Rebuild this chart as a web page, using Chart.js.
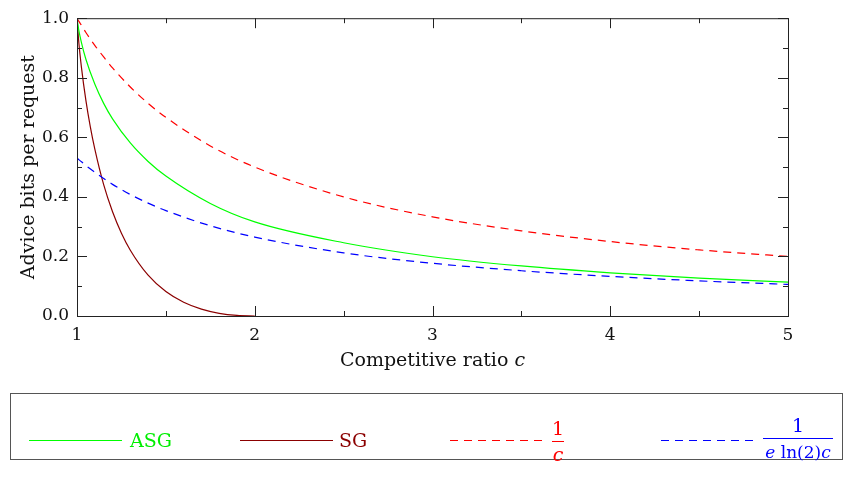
<!DOCTYPE html>
<html>
<head>
<meta charset="utf-8">
<script src="https://cdn.jsdelivr.net/npm/chart.js@4.4.1/dist/chart.umd.min.js"></script>
<style>
  body { margin: 0; background: #fff; }
  #wrap { position: relative; width: 845px; height: 489px; font-family: "DejaVu Serif", serif; }
  #chart { position: absolute; left: 0; top: 0; }
  #legend { position: absolute; left: 10px; top: 393px; width: 833px; height: 67px; border: 1px solid #555; box-sizing: border-box; }
  .lbl { position: absolute; font-size: 19px; line-height: 20px; white-space: nowrap; }
  .bar { position: absolute; height: 0; border-top: 1px solid; }
  svg { position: absolute; left: 0; top: 0; }
</style>
</head>
<body>
<div id="wrap">
  <canvas id="chart" width="845" height="385"></canvas>
  <div id="legend"></div>
  <svg width="845" height="489" id="legendLines"></svg>
  <div class="lbl" style="left:130px; top:430px; color:#00ee00">ASG</div>
  <div class="lbl" style="left:339px; top:430px; color:#8b0000">SG</div>
  <div class="lbl" style="left:550px; top:418px; width:16px; text-align:center; color:#ff0000">1</div>
  <div class="bar" style="left:552px; top:441px; width:12px; border-color:#ff0000"></div>
  <div class="lbl" style="left:550px; top:444px; width:16px; text-align:center; color:#ff0000"><i>c</i></div>
  <div class="lbl" style="left:763px; top:415px; width:70px; text-align:center; color:#0000ff">1</div>
  <div class="bar" style="left:763px; top:438px; width:70px; border-color:#0000ff"></div>
  <div class="lbl" style="left:755px; top:442px; width:86px; text-align:center; color:#0000ff; font-size:17px"><i>e</i> ln(2)<i>c</i></div>
</div>
<script>
// competitive ratio samples shared by ASG and the two reference curves
const cGrid = [1, 1.01, 1.025, 1.05, 1.1, 1.15, 1.2, 1.3, 1.4, 1.5, 1.75, 2, 2.5, 3, 3.5, 4, 4.5, 5]
const asgBits = [1.000, 0.960, 0.918, 0.862, 0.779, 0.714, 0.662, 0.581, 0.519, 0.470, 0.378, 0.316, 0.246, 0.199, 0.168, 0.145, 0.127, 0.114]
const invC = [1.000, 0.990, 0.976, 0.952, 0.909, 0.870, 0.833, 0.769, 0.714, 0.667, 0.571, 0.500, 0.400, 0.333, 0.286, 0.250, 0.222, 0.200]
const lowerBound = [0.531, 0.525, 0.518, 0.505, 0.483, 0.462, 0.442, 0.408, 0.379, 0.354, 0.303, 0.265, 0.212, 0.177, 0.152, 0.133, 0.118, 0.106]

// SG only goes out to c = 2
const sgC = [1, 1.01, 1.025, 1.05, 1.075, 1.1, 1.15, 1.2, 1.25, 1.3, 1.4, 1.5, 1.6, 1.7, 1.8, 1.9, 2]
const sgBits = [1.000, 0.920, 0.835, 0.724, 0.635, 0.561, 0.441, 0.350, 0.278, 0.221, 0.137, 0.082, 0.046, 0.023, 0.009, 0.002, 0.000]

const xTickLabels = [1, 2, 3, 4, 5]
const yTickLabels = ['0.0', '0.2', '0.4', '0.6', '0.8', '1.0']

const FONT = '"DejaVu Serif", serif'
const DASH = [8, 6]

const toPoints = (xs, ys) => xs.map((x, i) => ({ x: x, y: ys[i] }))

// legend sample lines
const legendLines = [
    { x1: 29, x2: 122, y: 440.5, color: '#00ff00', dash: null },
    { x1: 240, x2: 333, y: 440.5, color: '#8b0000', dash: null },
    { x1: 450, x2: 545, y: 440.5, color: '#ff0000', dash: DASH },
    { x1: 661, x2: 755, y: 440.5, color: '#0000ff', dash: DASH }
]
const svg = document.getElementById('legendLines')
legendLines.forEach(l => {
    const line = document.createElementNS('http://www.w3.org/2000/svg', 'line')
    line.setAttribute('x1', l.x1)
    line.setAttribute('x2', l.x2)
    line.setAttribute('y1', l.y)
    line.setAttribute('y2', l.y)
    line.setAttribute('stroke', l.color)
    line.setAttribute('stroke-width', '1.2')
    if (l.dash) line.setAttribute('stroke-dasharray', l.dash.join(' '))
    svg.appendChild(line)
})

// frame with inward ticks on all four sides, plus axis titles
const frameTicks = {
    id: 'frameTicks',
    afterDatasetsDraw(chart) {
        const { ctx, chartArea: a, scales: { x, y } } = chart
        ctx.save()
        ctx.strokeStyle = '#222'
        ctx.lineWidth = 1
        ctx.strokeRect(a.left + 0.5, a.top + 0.5, a.right - a.left, a.bottom - a.top)

        const seg = (x1, y1, x2, y2) => {
            ctx.beginPath()
            ctx.moveTo(x1, y1)
            ctx.lineTo(x2, y2)
            ctx.stroke()
        }
        for (let i = 0; i <= 8; i++) {
            const v = 1 + i * 0.5
            const px = Math.round(x.getPixelForValue(v)) + 0.5
            const len = i % 2 === 0 ? 10 : 5
            seg(px, a.bottom, px, a.bottom - len)
            seg(px, a.top, px, a.top + len)
        }
        for (let i = 0; i <= 10; i++) {
            const py = Math.round(y.getPixelForValue(i / 10)) + 0.5
            const len = i % 2 === 0 ? 10 : 5
            seg(a.left, py, a.left + len, py)
            seg(a.right, py, a.right - len, py)
        }

        ctx.fillStyle = '#111'
        ctx.textBaseline = 'middle'
        ctx.font = '19px ' + FONT
        const part1 = 'Competitive ratio '
        const w1 = ctx.measureText(part1).width
        ctx.font = 'italic 19px ' + FONT
        const w2 = ctx.measureText('c').width
        const cx = (a.left + a.right) / 2
        const startX = cx - (w1 + w2) / 2
        ctx.textAlign = 'left'
        ctx.font = '19px ' + FONT
        ctx.fillText(part1, startX, 361)
        ctx.font = 'italic 19px ' + FONT
        ctx.fillText('c', startX + w1, 361)

        ctx.translate(29, (a.top + a.bottom) / 2)
        ctx.rotate(-Math.PI / 2)
        ctx.textAlign = 'center'
        ctx.font = '19px ' + FONT
        ctx.fillText('Advice bits per request', 0, 0)
        ctx.restore()
    }
}

const lineStyle = (color, dash) => ({
    borderColor: color,
    borderWidth: 1.2,
    borderDash: dash || [],
    pointRadius: 0,
    fill: false,
    cubicInterpolationMode: 'monotone'
})

new Chart(document.getElementById('chart'), {
    type: 'line',
    data: {
        datasets: [
            { label: '1/c', data: toPoints(cGrid, invC), ...lineStyle('#ff0000', DASH) },
            { label: '1/(e ln(2) c)', data: toPoints(cGrid, lowerBound), ...lineStyle('#0000ff', DASH) },
            { label: 'ASG', data: toPoints(cGrid, asgBits), ...lineStyle('#00ff00') },
            { label: 'SG', data: toPoints(sgC, sgBits), ...lineStyle('#8b0000') }
        ]
    },
    options: {
        responsive: false,
        maintainAspectRatio: false,
        animation: false,
        layout: { padding: { top: 10, right: 57, left: 0, bottom: 0 } },
        plugins: { legend: { display: false }, tooltip: { enabled: false } },
        scales: {
            x: {
                type: 'linear',
                min: 1,
                max: 5,
                afterFit: s => { s.height = 69 },
                afterBuildTicks: s => { s.ticks = xTickLabels.map(v => ({ value: v })) },
                grid: { display: false, drawTicks: false },
                border: { display: false },
                ticks: { color: '#111', font: { family: FONT, size: 17 }, padding: 9, maxRotation: 0 }
            },
            y: {
                type: 'linear',
                min: 0,
                max: 1,
                afterFit: s => { s.width = 77 },
                afterBuildTicks: s => { s.ticks = yTickLabels.map(v => ({ value: parseFloat(v) })) },
                grid: { display: false, drawTicks: false },
                border: { display: false },
                ticks: {
                    color: '#111',
                    font: { family: FONT, size: 17 },
                    padding: 8,
                    callback: v => v.toFixed(1)
                }
            }
        }
    },
    plugins: [frameTicks]
})
</script>
</body>
</html>
